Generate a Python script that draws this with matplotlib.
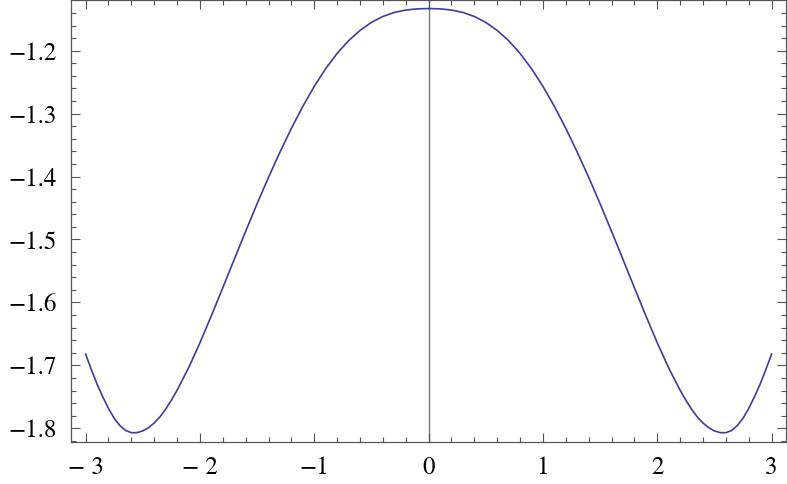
import numpy as np
import matplotlib
matplotlib.use("Agg")
import matplotlib.pyplot as plt
from matplotlib.ticker import MultipleLocator, FixedLocator

# values (curve is mirror-symmetric about x = 0)
xs = [-3.0, -2.95, -2.9, -2.85, -2.8, -2.75, -2.7, -2.65, -2.6, -2.55,
      -2.5, -2.45, -2.4, -2.35, -2.3, -2.25, -2.2, -2.1,
      -2.0, -1.9, -1.8, -1.7, -1.6, -1.5, -1.4, -1.3, -1.2, -1.1,
      -1.0, -0.9, -0.8, -0.7, -0.6, -0.5, -0.4, -0.3, -0.2, -0.1,
      0.0,
      0.1, 0.2, 0.3, 0.4, 0.5, 0.6, 0.7, 0.8, 0.9, 1.0,
      1.1, 1.2, 1.3, 1.4, 1.5, 1.6, 1.7, 1.8, 1.9, 2.0,
      2.1, 2.2, 2.25, 2.3, 2.35, 2.4, 2.45, 2.5,
      2.55, 2.6, 2.65, 2.7, 2.75, 2.8, 2.85, 2.9, 2.95, 3.0]
ys = [-1.6820, -1.7068, -1.7298, -1.7500, -1.7685, -1.7841, -1.7958, -1.8035, -1.8070, -1.8069,
      -1.8041, -1.7990, -1.7916, -1.7819, -1.7696, -1.7553, -1.7396, -1.7041,
      -1.6641, -1.6211, -1.5766, -1.5316, -1.4869, -1.4431, -1.4011, -1.3611, -1.3234, -1.2884,
      -1.2566, -1.2285, -1.2043, -1.1841, -1.1678, -1.1550, -1.1456, -1.1392, -1.1354, -1.1335,
      -1.1330,
      -1.1335, -1.1354, -1.1392, -1.1456, -1.1550, -1.1678, -1.1841, -1.2043, -1.2285, -1.2566,
      -1.2884, -1.3234, -1.3611, -1.4011, -1.4431, -1.4869, -1.5316, -1.5766, -1.6211, -1.6641,
      -1.7041, -1.7396, -1.7553, -1.7696, -1.7819, -1.7916, -1.7990, -1.8041,
      -1.8069, -1.8070, -1.8035, -1.7958, -1.7841, -1.7685, -1.7500, -1.7298, -1.7068, -1.6820]

xticks = [-3, -2, -1, 0, 1, 2, 3]
xlabels = ["\u2212 3", "\u2212 2", "\u22121", "0", "1", "2", "3"]
yticks = [-1.8, -1.7, -1.6, -1.5, -1.4, -1.3, -1.2]
ylabels = ["\u22121.8", "\u22121.7", "\u22121.6", "\u22121.5", "\u22121.4", "\u22121.3", "\u22121.2"]

plt.rcParams['font.family'] = ['STIXGeneral', 'DejaVu Serif']

fig = plt.figure(figsize=(7.87, 4.84), dpi=100)
ax = fig.add_axes([0.0902, 0.0874, 0.9088, 0.9116])

ax.axvline(0, color='#777777', lw=1.0, zorder=1)
ax.plot(xs, ys, color='#3d3d9e', lw=1.2, zorder=2)

ax.set_xlim(-3.128, 3.128)
ax.set_ylim(-1.8213, -1.1202)

ax.xaxis.set_major_locator(FixedLocator(xticks))
ax.set_xticklabels(xlabels)
ax.xaxis.set_minor_locator(MultipleLocator(0.2))
ax.yaxis.set_major_locator(FixedLocator(yticks))
ax.set_yticklabels(ylabels)
ax.yaxis.set_minor_locator(MultipleLocator(0.02))

for s in ax.spines.values():
    s.set_color('#555555')
    s.set_linewidth(0.9)

ax.tick_params(which='both', direction='in', top=True, right=True,
               color='#555555', width=0.8, labelsize=18)
ax.tick_params(which='major', length=6.5)
ax.tick_params(which='minor', length=3.5)
ax.tick_params(axis='x', which='major', pad=10)
ax.tick_params(axis='y', which='major', pad=10)

fig.savefig('out.png', dpi=100)
